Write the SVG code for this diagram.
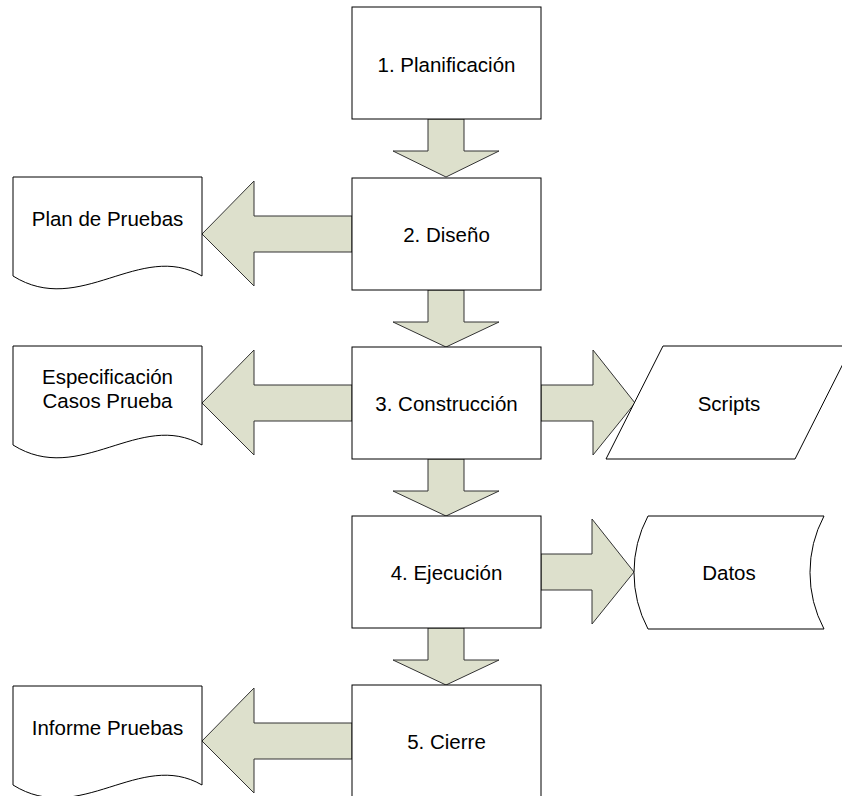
<svg xmlns="http://www.w3.org/2000/svg" width="842" height="796" viewBox="0 0 842 796">
<style>
.box{fill:#fff;stroke:#000;stroke-width:1}
.arr{fill:#dde0cc;stroke:#333;stroke-width:1;stroke-linejoin:miter}
text{font-family:"Liberation Sans",Arial,sans-serif;font-size:20.5px;fill:#000;text-anchor:middle}
</style>
<rect width="842" height="796" fill="#fff"/>
<g id="connectors">
<path class="arr" d="M428,119 H464 V151 H499 L446,177 L393,151 H428 Z"/>
<path class="arr" d="M428,290 H464 V322 H499 L446,347 L393,322 H428 Z"/>
<path class="arr" d="M428,459 H464 V491 H499 L446,516 L393,491 H428 Z"/>
<path class="arr" d="M428,628 H464 V660 H499 L446,685 L393,660 H428 Z"/>
<path class="arr" d="M352,216 V252 H254 V286 L202,234 L254,181 V216 Z"/>
<path class="arr" d="M352,385 V421 H254 V455 L202,403 L254,350 V385 Z"/>
<path class="arr" d="M352,723 V759 H254 V793 L202,741 L254,688 V723 Z"/>
<path class="arr" d="M541,385 V421 H593 V455 L635,403 L593,350 V385 Z"/>
<path class="arr" d="M541,554 V590 H592 V624 L634,572 L592,519 V554 Z"/>
</g>
<g id="n1"><rect class="box" x="352" y="7" width="189" height="112"/><text x="446.5" y="72">1. Planificación</text></g>
<g id="n2"><rect class="box" x="352" y="178" width="189" height="112"/><text x="446.5" y="242">2. Diseño</text></g>
<g id="n3"><rect class="box" x="352" y="347" width="189" height="112"/><text x="446.5" y="411">3. Construcción</text></g>
<g id="n4"><rect class="box" x="352" y="516" width="189" height="112"/><text x="446.5" y="580">4. Ejecución</text></g>
<g id="n5"><rect class="box" x="352" y="685" width="189" height="112"/><text x="446.5" y="749">5. Cierre</text></g>
<g id="doc1"><path class="box" d="M13,177 H202 V276 C140,240 80,318 13,276 Z"/><text x="107.5" y="226">Plan de Pruebas</text></g>
<g id="doc2"><path class="box" d="M13,346 H202 V445 C140,409 80,487 13,445 Z"/><text x="107.5" y="384">Especificación</text><text x="107.5" y="408">Casos Prueba</text></g>
<g id="doc3"><path class="box" d="M13,686 H202 V785 C140,749 80,827 13,785 Z"/><text x="107.5" y="735">Informe Pruebas</text></g>
<g id="scripts"><path class="box" d="M663,346 H852 L795,459 H606 Z"/><text x="729" y="411">Scripts</text></g>
<g id="datos"><path class="box" d="M648,516 H824 A121,121 0 0,0 824,629 H648 A121,121 0 0,1 648,516 Z"/><text x="729" y="580">Datos</text></g>
</svg>
